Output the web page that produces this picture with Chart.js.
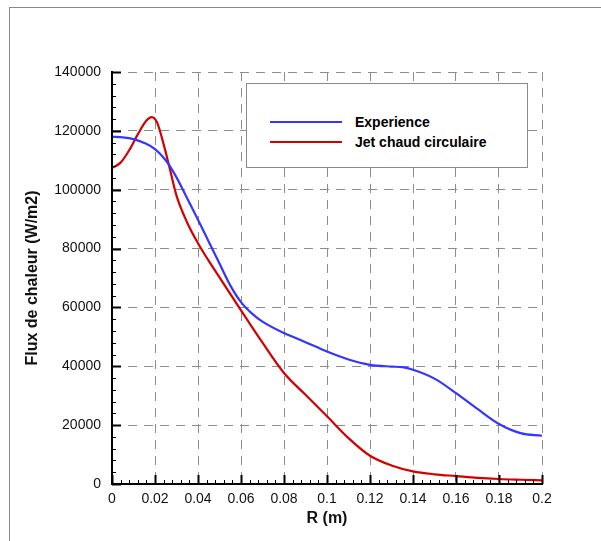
<!DOCTYPE html>
<html>
<head>
<meta charset="utf-8">
<script src="https://cdn.jsdelivr.net/npm/chart.js@4.4.0/dist/chart.umd.min.js"></script>
<style>
  html, body { margin: 0; padding: 0; background: #fff; }
  #wrap { position: relative; width: 601px; height: 541px; }
  #frame { position: absolute; left: 9px; top: 7px; right: 0; bottom: 0;
           border-top: 1px solid #8a8a8a; border-left: 1px solid #8a8a8a; pointer-events: none; }
  #legend { position: absolute; left: 246px; top: 83px; width: 282px; height: 85px;
            background: #fff; border: 1px solid #8a8a8a; box-sizing: border-box;
            font-family: "Liberation Sans", Arial, sans-serif; font-weight: bold; font-size: 14px; }
  .row { position: absolute; left: 23px; height: 20px; display: flex; align-items: center; }
  .swatch { width: 72px; height: 0; border-top: 2px solid; margin-right: 13px; }
</style>
</head>
<body>
<div id="wrap">
  <canvas id="chart" width="601" height="541"></canvas>
  <div id="frame"></div>
  <div id="legend"></div>
</div>
<script>
// R (m) and heat flux (W/m2)
const expR = [0, 0.005, 0.01, 0.015, 0.02, 0.025, 0.03, 0.035, 0.04, 0.045, 0.05, 0.055, 0.06, 0.065, 0.07, 0.08, 0.09, 0.1, 0.11, 0.12, 0.13, 0.135, 0.14, 0.15, 0.16, 0.17, 0.18, 0.19, 0.2];
const expFlux = [118000, 117800, 117200, 115900, 113800, 110000, 104200, 97000, 89800, 82300, 74900, 67500, 61800, 58000, 55200, 51300, 48200, 45000, 42300, 40500, 39900, 39700, 38800, 35800, 30900, 25500, 20400, 17300, 16400];

const jetR = [0, 0.004, 0.008, 0.012, 0.016, 0.0185, 0.021, 0.024, 0.027, 0.03, 0.035, 0.04, 0.045, 0.05, 0.06, 0.07, 0.08, 0.09, 0.1, 0.11, 0.12, 0.13, 0.14, 0.15, 0.16, 0.17, 0.18, 0.19, 0.2];
const jetFlux = [107400, 109200, 113400, 118800, 123500, 124700, 122800, 115500, 106800, 98000, 88800, 81800, 75800, 70200, 59000, 48000, 37700, 30300, 23000, 15600, 9600, 6300, 4300, 3300, 2700, 2100, 1700, 1450, 1250];

const seriesNames = ['Experience', 'Jet chaud circulaire'];
const seriesColors = ['#3535ff', '#d40000'];

const xTicks = [0, 0.02, 0.04, 0.06, 0.08, 0.1, 0.12, 0.14, 0.16, 0.18, 0.2];
const yTicks = [0, 20000, 40000, 60000, 80000, 100000, 120000, 140000];

const FONT = '"Liberation Sans", Arial, sans-serif';

function toPoints(xs, ys) {
    return xs.map((x, i) => ({ x: x, y: ys[i] }));
}

// solid axes on left/bottom, ticks drawn inside the plot (majors + 4 minors)
const innerTicks = {
    id: 'innerTicks',
    afterDraw(chart) {
        const ctx = chart.ctx;
        const xs = chart.scales.x, ys = chart.scales.y;
        const bottom = Math.round(ys.getPixelForValue(0));
        const left = Math.round(xs.getPixelForValue(0));
        const right = xs.getPixelForValue(0.2), top = ys.getPixelForValue(140000);
        ctx.save();
        ctx.strokeStyle = '#000';
        ctx.lineWidth = 2;
        ctx.beginPath();
        ctx.moveTo(left, top - 1); ctx.lineTo(left, bottom); ctx.lineTo(right + 1, bottom);
        ctx.stroke();
        for (let i = 0; i < xTicks.length; i++) {
            const px = Math.round(xs.getPixelForValue(xTicks[i])) + 0.5;
            ctx.lineWidth = 2;
            ctx.beginPath(); ctx.moveTo(px, bottom); ctx.lineTo(px, bottom - 9); ctx.stroke();
            if (i < xTicks.length - 1) {
                const step = (xTicks[i + 1] - xTicks[i]) / 5;
                ctx.lineWidth = 1;
                for (let k = 1; k < 5; k++) {
                    const mx = Math.round(xs.getPixelForValue(xTicks[i] + k * step)) + 0.5;
                    ctx.beginPath(); ctx.moveTo(mx, bottom); ctx.lineTo(mx, bottom - 4); ctx.stroke();
                }
            }
        }
        for (let i = 0; i < yTicks.length; i++) {
            const py = Math.round(ys.getPixelForValue(yTicks[i])) + 0.5;
            ctx.lineWidth = 2;
            ctx.beginPath(); ctx.moveTo(left, py); ctx.lineTo(left + 9, py); ctx.stroke();
            if (i < yTicks.length - 1) {
                const step = (yTicks[i + 1] - yTicks[i]) / 5;
                ctx.lineWidth = 1;
                for (let k = 1; k < 5; k++) {
                    const my = Math.round(ys.getPixelForValue(yTicks[i] + k * step)) + 0.5;
                    ctx.beginPath(); ctx.moveTo(left, my); ctx.lineTo(left + 4, my); ctx.stroke();
                }
            }
        }
        ctx.restore();
    }
};

const datasets = [toPoints(expR, expFlux), toPoints(jetR, jetFlux)].map((pts, i) => ({
    label: seriesNames[i],
    data: pts,
    borderColor: seriesColors[i],
    borderWidth: 2.2,
    pointRadius: 0,
    fill: false,
    cubicInterpolationMode: 'monotone'
}));

new Chart(document.getElementById('chart'), {
    type: 'line',
    data: { datasets: datasets },
    options: {
        responsive: false,
        animation: false,
        layout: { padding: { left: 0, top: 72, right: 59, bottom: 0 } },
        plugins: { legend: { display: false }, tooltip: { enabled: false } },
        scales: {
            x: {
                type: 'linear',
                min: 0, max: 0.2,
                afterBuildTicks: s => { s.ticks = xTicks.map(v => ({ value: v })); },
                afterFit: s => { s.height = 57; },
                grid: { color: '#8c8c8c', lineWidth: 1, drawTicks: false },
                border: { display: false, dash: [9, 7] },
                ticks: {
                    padding: 7, color: '#111', maxRotation: 0,
                    font: { family: FONT, size: 14 },
                    callback: v => String(v)
                },
                title: {
                    display: true, text: 'R (m)', color: '#111',
                    font: { family: FONT, size: 16, weight: 'bold' },
                    padding: { top: 0, bottom: 13 }
                }
            },
            y: {
                min: 0, max: 140000,
                afterBuildTicks: s => { s.ticks = yTicks.map(v => ({ value: v })); },
                afterFit: s => { s.width = 112; },
                grid: { color: '#8c8c8c', lineWidth: 1, drawTicks: false },
                border: { display: false, dash: [9, 7] },
                ticks: {
                    padding: 11, color: '#111',
                    font: { family: FONT, size: 14 },
                    callback: v => String(v)
                },
                title: {
                    display: true, text: 'Flux de chaleur (W/m2)', color: '#111',
                    font: { family: FONT, size: 16, weight: 'bold' },
                    padding: { top: 23, bottom: 0 }
                }
            }
        }
    },
    plugins: [innerTicks]
});

// legend box inside the plot
const legend = document.getElementById('legend');
seriesNames.forEach((name, i) => {
    const row = document.createElement('div');
    row.className = 'row';
    row.style.top = (28 + i * 19.5) + 'px';
    row.innerHTML = `<span class="swatch" style="border-color:${seriesColors[i]}"></span><span>${name}</span>`;
    legend.appendChild(row);
});
</script>
</body>
</html>
